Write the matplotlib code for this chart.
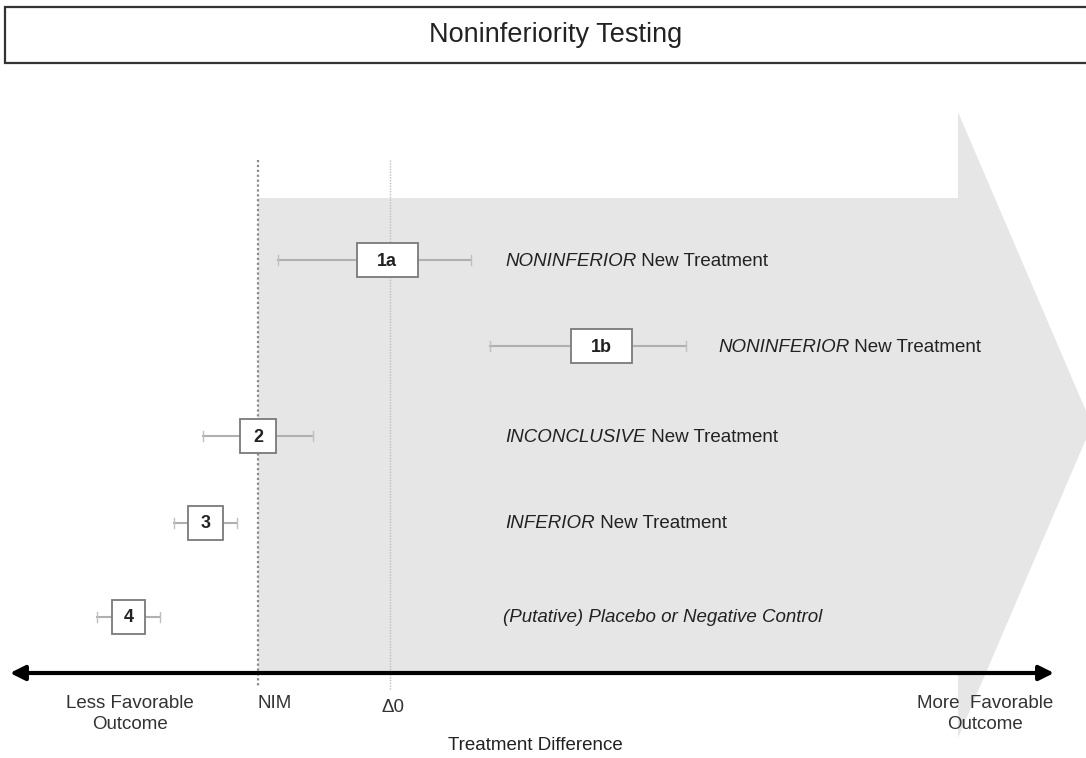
import matplotlib
matplotlib.use("Agg")
import matplotlib.pyplot as plt
from matplotlib.patches import Polygon, Rectangle

plt.rcParams["font.family"] = ["Liberation Sans", "DejaVu Sans"]

# Treatment difference, in units where NIM = -1 and delta0 = 0
labels = ["1a", "1b", "2", "3", "4"]
estimate = [-0.02, 1.60, -1.00, -1.40, -1.98]
ci_low = [-0.85, 0.76, -1.42, -1.64, -2.22]
ci_high = [0.61, 2.24, -0.58, -1.16, -1.74]
verdict_italic = ["NONINFERIOR", "NONINFERIOR", "INCONCLUSIVE", "INFERIOR",
                  "(Putative) Placebo or Negative Control"]
verdict_rest = [" New Treatment", " New Treatment", " New Treatment", " New Treatment", ""]
nim = -1.0
delta0 = 0.0

# layout (pixels, y grows downwards)
W, H = 1086, 758
PX_PER_UNIT = 132.0
X0_PX = 390.0
row_y = [260, 346, 436, 523, 617]
box_w = [61, 61, 36, 35, 33]
box_h = 34
verdict_x = [505, 718, 505, 505, 503]
axis_y = 673
FS = 13.5


def u(px):
    return (px - X0_PX) / PX_PER_UNIT


fig = plt.figure(figsize=(W / 100, H / 100), dpi=100)
ax = fig.add_axes([0, 0, 1, 1])
ax.set_xlim(u(0), u(W))
ax.set_ylim(H, 0)
ax.axis("off")

# title box
ax.add_patch(Rectangle((u(5), 7), u(1095) - u(5), 56, facecolor="white",
                       edgecolor="#333333", lw=1.6, zorder=1))
ax.text(u(556), 35, "Noninferiority Testing", ha="center", va="center",
        fontsize=19.5, color="#222222")

# big gray arrow from NIM to the right
arrow_px = [(nim, 198), (u(958), 198), (u(958), 112), (u(1092), 425),
            (u(958), 738), (u(958), axis_y), (nim, axis_y)]
ax.add_patch(Polygon(arrow_px, closed=True, facecolor="#e6e6e6",
                     edgecolor="none", zorder=0))

# reference lines
ax.plot([nim, nim], [160, 686], color="#8a8a8a", lw=1.6, ls=(0, (1, 1.2)), zorder=2)
ax.plot([delta0, delta0], [160, 690], color="#bdbdbd", lw=1.0, ls=(0, (1, 1)), zorder=2)

# intervals
for i, lab in enumerate(labels):
    y = row_y[i]
    ax.plot([ci_low[i], ci_high[i]], [y, y], color="#b0b0b0", lw=1.5, zorder=3)
    for xe in (ci_low[i], ci_high[i]):
        ax.plot([xe, xe], [y - 5, y + 5], color="#c0c0c0", lw=1.0, zorder=3)
    bw = box_w[i] / PX_PER_UNIT
    ax.add_patch(Rectangle((estimate[i] - bw / 2, y - box_h / 2), bw, box_h,
                           facecolor="white", edgecolor="#7a7a7a", lw=1.3, zorder=4))
    ax.text(estimate[i], y + 1, lab, ha="center", va="center", fontsize=13,
            fontweight="bold", color="#222222", zorder=5)
    t = ax.text(u(verdict_x[i]), y + 1, verdict_italic[i], ha="left", va="center",
                fontsize=FS, style="italic", color="#222222", zorder=5)
    if verdict_rest[i]:
        ax.annotate(verdict_rest[i], xycoords=t, xy=(1, 0.5), ha="left", va="center",
                    fontsize=FS, color="#222222", zorder=5)

# treatment difference axis
ax.annotate("", xy=(u(10), axis_y), xytext=(u(1054), axis_y),
            arrowprops=dict(arrowstyle="<|-|>", color="black", lw=3,
                            mutation_scale=22, shrinkA=0, shrinkB=0), zorder=6)

ax.text(u(130), 714, "Less Favorable\nOutcome", ha="center", va="center",
        fontsize=FS, color="#333333", linespacing=1.3)
ax.text(nim + u(275) - u(258), 704, "NIM", ha="center", va="center",
        fontsize=FS, color="#333333")
ax.text(delta0 + 0.02, 707, "\u03940", ha="center", va="center", fontsize=FS, color="#333333")
ax.text(u(985), 714, "More  Favorable\nOutcome", ha="center", va="center",
        fontsize=FS, color="#333333", linespacing=1.3)
ax.text(u(535), 746, "Treatment Difference", ha="center", va="center",
        fontsize=13.5, color="#222222")

fig.savefig("out.png", dpi=100)
